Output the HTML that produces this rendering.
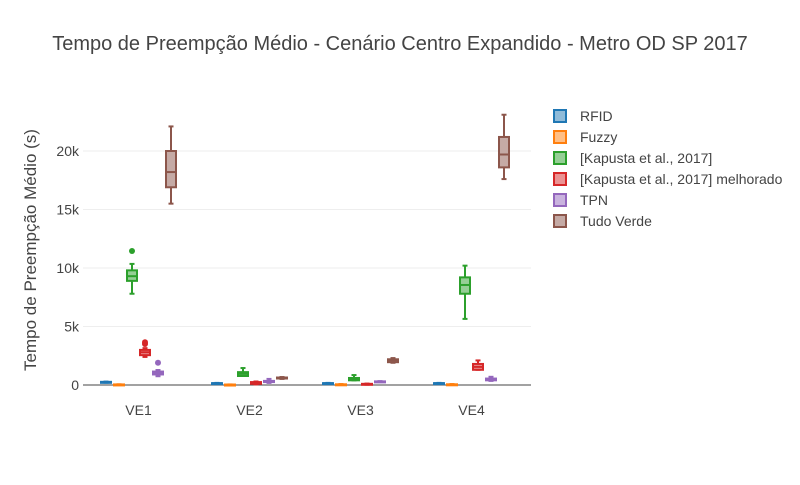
<!DOCTYPE html>
<html><head><meta charset="utf-8">
<style>
body{margin:0;background:#fff;font-family:"Liberation Sans",sans-serif;}
svg text{font-family:"Liberation Sans",sans-serif;}
</style></head>
<body>
<svg id="chart" width="800" height="480" xmlns="http://www.w3.org/2000/svg">
<text x="400" y="50" text-anchor="middle" font-size="20" fill="#444">Tempo de Preempção Médio - Cenário Centro Expandido - Metro OD SP 2017</text>
<text transform="translate(36,250) rotate(-90)" text-anchor="middle" font-size="17" fill="#444">Tempo de Preempção Médio (s)</text>
<g id="grid"></g><g id="boxes"></g><g id="legend"></g>
</svg>
<script>
const categories = ["VE1","VE2","VE3","VE4"];
const seriesNames = ["RFID","Fuzzy","[Kapusta et al., 2017]","[Kapusta et al., 2017] melhorado","TPN","Tudo Verde"];
const colors = ["#1f77b4","#ff7f0e","#2ca02c","#d62728","#9467bd","#8c564b"];
const yTicks = [0,5000,10000,15000,20000];
const yTickLabels = ["0","5k","10k","15k","20k"];
// [lowerWhisker, q1, median, q3, upperWhisker] per category
const rfid = [[200,220,250,270,290],[120,140,150,160,180],[120,140,150,160,180],[120,140,150,160,180]];
const fuzzy = [[20,30,40,50,60],[10,20,30,40,50],[0,20,40,60,80],[0,20,40,60,80]];
const kapusta = [[7800,8900,9300,9800,10350],[770,770,950,1100,1450],[400,400,480,600,850],[5650,7800,8550,9200,10200]];
const melhorado = [[2400,2550,2800,3000,3150],[50,100,150,250,300],[30,50,80,100,120],[1300,1300,1550,1800,2100]];
const tpn = [[750,900,1050,1150,1280],[180,250,300,350,520],[250,270,290,310,330],[350,400,500,550,700]];
const tudoVerde = [[15500,16900,18200,20000,22100],[520,560,600,640,680],[1900,1950,2100,2200,2300],[17600,18600,19700,21200,23100]];
const outliersKapusta = [[11450],[],[],[]];
const outliersMelhorado = [[3650,3500],[],[],[]];
const outliersTpn = [[1900],[],[],[]];
const series = [rfid,fuzzy,kapusta,melhorado,tpn,tudoVerde];
const outliers = [[[],[],[],[]],[[],[],[],[]],outliersKapusta,outliersMelhorado,outliersTpn,[[],[],[],[]]];

const NS="http://www.w3.org/2000/svg";
const X0=83, X1=531, Y0=385, PXK=11.7/1000;
const yS=v=>Y0-v*PXK;
const catW=111;
const xS=(ci,si)=>X0+catW*(ci+0.5)+(si-2.5)*13;
function mk(tag,attrs,parent){const e=document.createElementNS(NS,tag);for(const k in attrs)e.setAttribute(k,attrs[k]);parent.appendChild(e);return e;}
const grid=document.getElementById('grid'),boxes=document.getElementById('boxes'),legend=document.getElementById('legend');
yTicks.forEach((t,i)=>{
  if(t>0){const l=mk('line',{x1:X0,x2:X1,y1:yS(t),y2:yS(t),stroke:'#eee','stroke-width':1},grid);
  
  }
  const tx=mk('text',{x:79,y:yS(t)+5,'text-anchor':'end','font-size':14,fill:'#444'},grid);tx.textContent=yTickLabels[i];
  
  
});
const zl=mk('line',{x1:X0,x2:X1,y1:Y0,y2:Y0,stroke:'#444','stroke-width':1},grid);


categories.forEach((c,ci)=>{
  const tx=mk('text',{x:X0+catW*(ci+0.5),y:415,'text-anchor':'middle','font-size':14,fill:'#444'},grid);tx.textContent=c;
  
  
});
series.forEach((s,si)=>{
  const col=colors[si];
  s.forEach((d,ci)=>{
    const x=xS(ci,si),w=10;
    const g=mk('g',{},boxes);
    
    
    mk('line',{x1:x,x2:x,y1:yS(d[0]),y2:yS(d[1]),stroke:col,'stroke-width':2},g);
    mk('line',{x1:x,x2:x,y1:yS(d[3]),y2:yS(d[4]),stroke:col,'stroke-width':2},g);
    mk('line',{x1:x-2.5,x2:x+2.5,y1:yS(d[0]),y2:yS(d[0]),stroke:col,'stroke-width':2},g);
    mk('line',{x1:x-2.5,x2:x+2.5,y1:yS(d[4]),y2:yS(d[4]),stroke:col,'stroke-width':2},g);
    const h=Math.max(yS(d[1])-yS(d[3]),1);
    mk('rect',{x:x-w/2,y:yS(d[3]),width:w,height:h,fill:'#fff',stroke:'none'},g);
    mk('rect',{x:x-w/2,y:yS(d[3]),width:w,height:h,fill:col,'fill-opacity':0.5,stroke:col,'stroke-width':2},g);
    mk('line',{x1:x-w/2,x2:x+w/2,y1:yS(d[2]),y2:yS(d[2]),stroke:col,'stroke-width':2},g);
    outliers[si][ci].forEach(o=>{
      const c=mk('circle',{cx:x,cy:yS(o),r:3,fill:col},g);
      
      
    });
  });
  const ly=116+si*21;
  const lg=mk('g',{},legend);
  
  
  mk('rect',{x:554,y:ly-6,width:12,height:12,fill:col,'fill-opacity':0.5,stroke:col,'stroke-width':2},lg);
  const t=mk('text',{x:580,y:ly+5,'font-size':14,fill:'#444'},lg);t.textContent=seriesNames[si];
});
</script>
</body></html>
